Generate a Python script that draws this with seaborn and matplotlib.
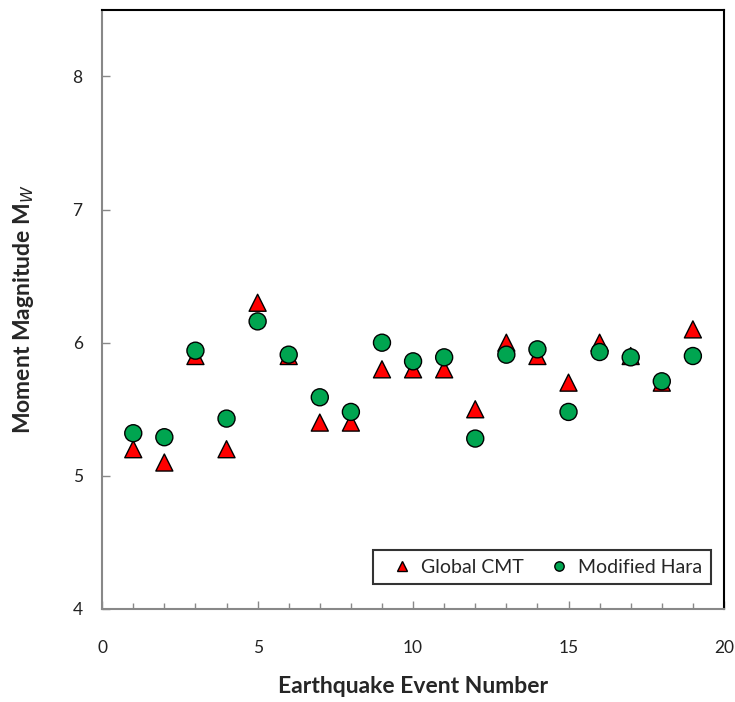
import numpy as np
import pandas as pd
import matplotlib
matplotlib.use("Agg")
import matplotlib.pyplot as plt
from matplotlib.ticker import MultipleLocator
import seaborn as sns

# event numbers and magnitudes
events = list(range(1, 20))
global_cmt = [5.2, 5.1, 5.9, 5.2, 6.3, 5.9, 5.4, 5.4, 5.8, 5.8,
              5.8, 5.5, 6.0, 5.9, 5.7, 6.0, 5.9, 5.7, 6.1]
modified_hara = [5.32, 5.29, 5.94, 5.43, 6.16, 5.91, 5.59, 5.48, 6.00, 5.86,
                 5.89, 5.28, 5.91, 5.95, 5.48, 5.93, 5.89, 5.71, 5.90]
series_names = ["Global CMT", "Modified Hara"]

df = pd.DataFrame({"event": events, series_names[0]: global_cmt,
                   series_names[1]: modified_hara})
long_df = df.melt(id_vars="event", var_name="source", value_name="mw")

sns.set_style("white")
plt.rcParams["font.family"] = ["Lato", "DejaVu Sans"]

fig = plt.figure(figsize=(7.35, 7.02), dpi=100)
ax = fig.add_axes([0.139, 0.1325, 0.846, 0.8535])

sns.scatterplot(data=long_df, x="event", y="mw", hue="source", style="source",
                hue_order=series_names, style_order=series_names,
                palette={"Global CMT": "#ff0000", "Modified Hara": "#00a550"},
                markers={"Global CMT": "^", "Modified Hara": "o"},
                s=150, edgecolor="black", linewidth=1.0, ax=ax, zorder=3)

ax.set_xlim(0, 20)
ax.set_ylim(4, 8.5)
ax.xaxis.set_major_locator(MultipleLocator(5))
ax.xaxis.set_minor_locator(MultipleLocator(1))
ax.yaxis.set_major_locator(MultipleLocator(1))
ax.tick_params(axis="x", which="major", direction="in", length=6, width=1,
               color="#888888", pad=22, labelsize=12.5, labelcolor="#222222")
ax.tick_params(axis="x", which="minor", direction="in", length=4, width=1,
               color="#888888")
ax.tick_params(axis="y", which="major", direction="in", length=6, width=1,
               color="#888888", pad=14, labelsize=12.5, labelcolor="#222222")
ax.tick_params(bottom=True, left=True, which="both")

for side in ["left", "bottom"]:
    ax.spines[side].set_color("#888888")
    ax.spines[side].set_linewidth(1.5)
for side in ["top", "right"]:
    ax.spines[side].set_color("black")
    ax.spines[side].set_linewidth(1.5)

ax.set_xlabel("Earthquake Event Number", fontsize=16.5, fontweight="bold",
              labelpad=15)
ax.set_ylabel(r"Moment Magnitude M$_W$", fontsize=16.5, fontweight="bold",
              labelpad=26)

handles, labels = ax.get_legend_handles_labels()
leg = ax.legend(handles, labels, loc="lower right", ncol=2, frameon=True,
                fancybox=False, edgecolor="black", fontsize=14,
                markerscale=0.55, handletextpad=0.0, columnspacing=0.8,
                borderpad=0.45, bbox_to_anchor=(0.995, 0.025))
leg.get_frame().set_linewidth(1.5)

fig.savefig("out.png", dpi=100)
